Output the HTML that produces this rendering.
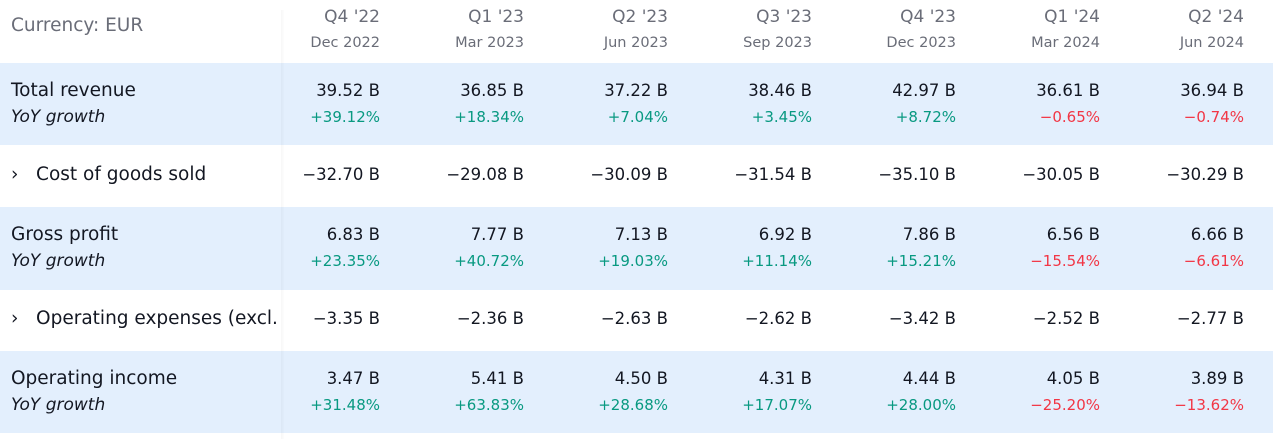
<!DOCTYPE html>
<html><head><meta charset="utf-8"><style>
body{margin:0;width:1273px;height:439px;background:#fff;font-family:"DejaVu Sans","Liberation Sans",sans-serif;position:relative;overflow:hidden;color:#131722}
.band{position:absolute;left:0;width:1273px;background:#e3effd}
.t{position:absolute;white-space:nowrap;line-height:20px}
.r{text-align:right;width:140px}
.lab{font-size:18.5px;left:11px}
.sub{font-size:17px;font-style:italic;left:11px}
.v{font-size:16.5px}
.g{font-size:15px;color:#089981}
.n{font-size:15px;color:#f23645}
.h1{font-size:17px;color:#6a6d78}
.h2{font-size:14.5px;color:#6a6d78}
.div{position:absolute;left:281px;top:10px;width:3px;height:429px;background:linear-gradient(to right,rgba(0,0,0,0.03),rgba(0,0,0,0.01))}
</style></head><body>
<div class="band" style="top:63px;height:82px"></div>
<div class="band" style="top:207px;height:83px"></div>
<div class="band" style="top:351px;height:82px"></div>
<div class="div"></div>
<div class="t lab" style="top:16px;color:#6a6d78">Currency: EUR</div>
<div class="t lab" style="top:81px">Total revenue</div>
<div class="t sub" style="top:107px">YoY growth</div>
<div class="t lab" style="top:165px">›&nbsp;&nbsp;&nbsp;Cost of goods sold</div>
<div class="t lab" style="top:225px">Gross profit</div>
<div class="t sub" style="top:251px">YoY growth</div>
<div class="t lab" style="top:309px;width:268px;overflow:hidden">›&nbsp;&nbsp;&nbsp;Operating expenses (excl.</div>
<div class="t lab" style="top:369px">Operating income</div>
<div class="t sub" style="top:395px">YoY growth</div>
<script>
var H=[["Q4 '22","Dec 2022"],["Q1 '23","Mar 2023"],["Q2 '23","Jun 2023"],["Q3 '23","Sep 2023"],["Q4 '23","Dec 2023"],["Q1 '24","Mar 2024"],["Q2 '24","Jun 2024"]];
var rows=[
[81,"v",["39.52 B","36.85 B","37.22 B","38.46 B","42.97 B","36.61 B","36.94 B"]],
[107,"p",["+39.12%","+18.34%","+7.04%","+3.45%","+8.72%","−0.65%","−0.74%"]],
[165,"v",["−32.70 B","−29.08 B","−30.09 B","−31.54 B","−35.10 B","−30.05 B","−30.29 B"]],
[225,"v",["6.83 B","7.77 B","7.13 B","6.92 B","7.86 B","6.56 B","6.66 B"]],
[251,"p",["+23.35%","+40.72%","+19.03%","+11.14%","+15.21%","−15.54%","−6.61%"]],
[309,"v",["−3.35 B","−2.36 B","−2.63 B","−2.62 B","−3.42 B","−2.52 B","−2.77 B"]],
[369,"v",["3.47 B","5.41 B","4.50 B","4.31 B","4.44 B","4.05 B","3.89 B"]],
[395,"p",["+31.48%","+63.83%","+28.68%","+17.07%","+28.00%","−25.20%","−13.62%"]]];
var s="";
for(var i=0;i<7;i++){var L=380+144*i-140;
s+='<div class="t r h1" style="left:'+L+'px;top:7px">'+H[i][0]+'</div><div class="t r h2" style="left:'+L+'px;top:33px">'+H[i][1]+'</div>';
rows.forEach(function(r){var c=r[1];var txt=r[2][i];if(c=="p")c=txt[0]=="+"?"g":"n";s+='<div class="t r '+c+'" style="left:'+L+'px;top:'+r[0]+'px">'+txt+'</div>';});}
document.write(s);
</script>
</body></html>
